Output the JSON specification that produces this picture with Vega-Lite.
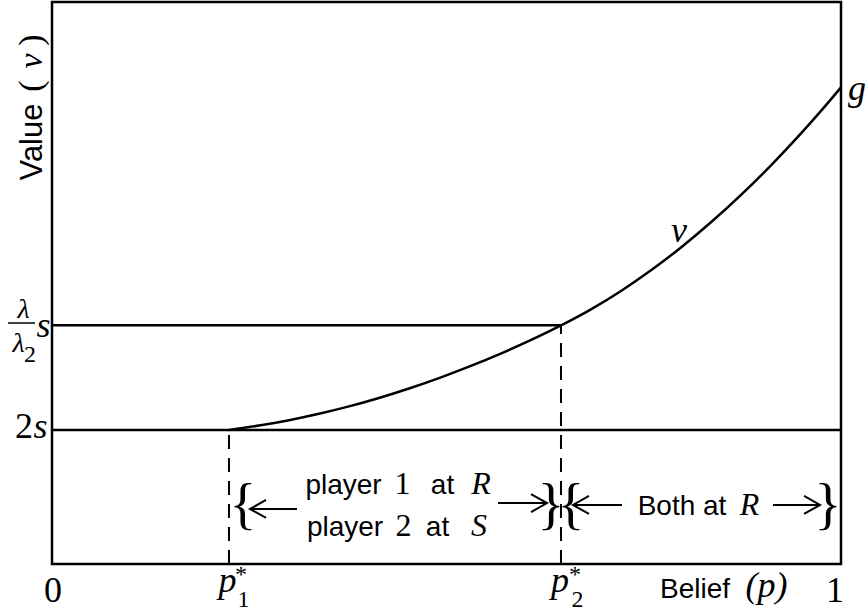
{
  "$schema": "https://vega.github.io/schema/vega-lite/v6.json",
  "width": 789,
  "height": 562,
  "autosize": {"type": "none"},
  "padding": {"left": 52, "top": 2, "right": 25, "bottom": 51},
  "background": "white",
  "config": {"view": {"stroke": "#000", "strokeWidth": 2.5}},
  "datasets": {
    "curve": [
      {"p": 0.2243, "v": 0.2384},
      {"p": 0.2624, "v": 0.2463},
      {"p": 0.3004, "v": 0.2559},
      {"p": 0.3384, "v": 0.2673},
      {"p": 0.3764, "v": 0.2804},
      {"p": 0.4144, "v": 0.2954},
      {"p": 0.4525, "v": 0.3123},
      {"p": 0.4905, "v": 0.3308},
      {"p": 0.5285, "v": 0.3511},
      {"p": 0.5665, "v": 0.3731},
      {"p": 0.6046, "v": 0.3970},
      {"p": 0.6451, "v": 0.4246},
      {"p": 0.6831, "v": 0.4532},
      {"p": 0.7212, "v": 0.4859},
      {"p": 0.7592, "v": 0.5226},
      {"p": 0.7972, "v": 0.5633},
      {"p": 0.8352, "v": 0.6080},
      {"p": 0.8733, "v": 0.6568},
      {"p": 0.9113, "v": 0.7094},
      {"p": 0.9493, "v": 0.7662},
      {"p": 0.9747, "v": 0.8062},
      {"p": 1.0, "v": 0.8480}
    ],
    "hlines": [
      {"p": 0, "p2": 1, "v": 0.2384},
      {"p": 0, "p2": 0.6451, "v": 0.4246}
    ],
    "vlines": [
      {"p": 0.2243, "v": 0, "v2": 0.2384},
      {"p": 0.6451, "v": 0, "v2": 0.4246}
    ],
    "fracbar": [
      {"p": -0.0558, "p2": -0.0215, "v": 0.4288}
    ],
    "arrows": [
      {"dir": "left", "tip": 0.2510, "tail": 0.3105, "v": 0.0979},
      {"dir": "right", "tip": 0.6274, "tail": 0.5653, "v": 0.1085},
      {"dir": "left", "tip": 0.6603, "tail": 0.7224, "v": 0.1050},
      {"dir": "right", "tip": 0.9734, "tail": 0.9138, "v": 0.1050}
    ],
    "labels": [
      {"kind": "sans", "t": "player", "p": 0.3695, "v": 0.1246},
      {"kind": "serif", "t": "1", "p": 0.4442, "v": 0.1246},
      {"kind": "sans", "t": "at", "p": 0.4949, "v": 0.1246},
      {"kind": "serifItalic", "t": "R", "p": 0.5437, "v": 0.1246},
      {"kind": "sans", "t": "player", "p": 0.3714, "v": 0.0498},
      {"kind": "serif", "t": "2", "p": 0.4455, "v": 0.0498},
      {"kind": "sans", "t": "at", "p": 0.4886, "v": 0.0498},
      {"kind": "serifItalic", "t": "S", "p": 0.5412, "v": 0.0498},
      {"kind": "sans", "t": "Both at", "p": 0.7985, "v": 0.0872},
      {"kind": "serifItalic", "t": "R", "p": 0.8840, "v": 0.0872},
      {"kind": "brace", "t": "{", "p": 0.2421, "v": 0.1032},
      {"kind": "brace", "t": "}", "p": 0.6324, "v": 0.1032},
      {"kind": "brace", "t": "{", "p": 0.6578, "v": 0.1032},
      {"kind": "brace", "t": "}", "p": 0.9835, "v": 0.1032},
      {"kind": "title", "t": "Belief", "p": 0.8150, "v": -0.0605},
      {"kind": "math", "t": "(p)", "p": 0.9056, "v": -0.0587},
      {"kind": "tick", "t": "0", "p": 0.0013, "v": -0.0676},
      {"kind": "tick", "t": "1", "p": 0.9924, "v": -0.0676},
      {"kind": "math", "t": "p", "p": 0.2224, "v": -0.0498},
      {"kind": "sub", "t": "1", "p": 0.2427, "v": -0.0765},
      {"kind": "star", "t": "*", "p": 0.2395, "v": -0.0196},
      {"kind": "math", "t": "p", "p": 0.6439, "v": -0.0498},
      {"kind": "sub", "t": "2", "p": 0.6660, "v": -0.0765},
      {"kind": "star", "t": "*", "p": 0.6629, "v": -0.0196},
      {"kind": "tick", "t": "2", "p": -0.0355, "v": 0.2242},
      {"kind": "math", "t": "s", "p": -0.0146, "v": 0.2242},
      {"kind": "lambda", "t": "λ", "p": -0.0361, "v": 0.4377},
      {"kind": "lambda", "t": "λ", "p": -0.0425, "v": 0.3772},
      {"kind": "sub", "t": "2", "p": -0.0279, "v": 0.3594},
      {"kind": "math", "t": "s", "p": -0.0108, "v": 0.4039},
      {"kind": "math", "t": "g", "p": 1.0203, "v": 0.8256},
      {"kind": "math", "t": "v", "p": 0.7947, "v": 0.5730},
      {"kind": "ytitle", "t": "Value", "p": -0.0127, "v": 0.7509},
      {"kind": "ytitleParen", "t": "(", "p": -0.0127, "v": 0.8505},
      {"kind": "ytitleMath", "t": "v", "p": -0.0127, "v": 0.8950},
      {"kind": "ytitleParen", "t": ")", "p": -0.0127, "v": 0.9324}
    ]
  },
  "encoding": {
    "x": {"field": "p", "type": "quantitative", "scale": {"domain": [0, 1], "nice": false, "zero": false}, "axis": null},
    "y": {"field": "v", "type": "quantitative", "scale": {"domain": [0, 1], "nice": false, "zero": false}, "axis": null}
  },
  "layer": [
    {
      "data": {"name": "hlines"},
      "mark": {"type": "rule", "color": "#000", "strokeWidth": 2.5},
      "encoding": {"x2": {"field": "p2"}}
    },
    {
      "data": {"name": "vlines"},
      "mark": {"type": "rule", "color": "#000", "strokeWidth": 2, "strokeDash": [14, 9]},
      "encoding": {"y2": {"field": "v2"}}
    },
    {
      "data": {"name": "fracbar"},
      "mark": {"type": "rule", "color": "#000", "strokeWidth": 1.5},
      "encoding": {"x2": {"field": "p2"}}
    },
    {
      "data": {"name": "curve"},
      "mark": {"type": "line", "color": "#000", "strokeWidth": 2.5, "interpolate": "monotone"},
      "encoding": {"order": {"field": "p", "type": "quantitative"}}
    },
    {
      "data": {"name": "arrows"},
      "mark": {"type": "rule", "color": "#000", "strokeWidth": 2},
      "encoding": {
        "x": {"field": "tail", "type": "quantitative"},
        "x2": {"field": "tip"}
      }
    },
    {
      "data": {"name": "arrows"},
      "transform": [{"filter": "datum.dir === 'right'"}],
      "mark": {"type": "point", "shape": "M -1.6 -0.9 L 0 0 L -1.6 0.9", "filled": false, "size": 400, "color": "#000", "strokeWidth": 2, "opacity": 1},
      "encoding": {"x": {"field": "tip", "type": "quantitative"}}
    },
    {
      "data": {"name": "arrows"},
      "transform": [{"filter": "datum.dir === 'left'"}],
      "mark": {"type": "point", "shape": "M 1.6 -0.9 L 0 0 L 1.6 0.9", "filled": false, "size": 400, "color": "#000", "strokeWidth": 2, "opacity": 1},
      "encoding": {"x": {"field": "tip", "type": "quantitative"}}
    },
    {
      "data": {"name": "labels"},
      "transform": [{"filter": "datum.kind === 'sans'"}],
      "mark": {"type": "text", "font": "Liberation Sans", "fontSize": 28, "align": "center", "baseline": "alphabetic", "color": "#000"},
      "encoding": {"text": {"field": "t"}}
    },
    {
      "data": {"name": "labels"},
      "transform": [{"filter": "datum.kind === 'title'"}],
      "mark": {"type": "text", "font": "Liberation Sans", "fontSize": 28, "align": "center", "baseline": "alphabetic", "color": "#000"},
      "encoding": {"text": {"field": "t"}}
    },
    {
      "data": {"name": "labels"},
      "transform": [{"filter": "datum.kind === 'serif'"}],
      "mark": {"type": "text", "font": "Liberation Serif", "fontSize": 32, "align": "center", "baseline": "alphabetic", "color": "#000"},
      "encoding": {"text": {"field": "t"}}
    },
    {
      "data": {"name": "labels"},
      "transform": [{"filter": "datum.kind === 'serifItalic'"}],
      "mark": {"type": "text", "font": "Liberation Serif", "fontStyle": "italic", "fontSize": 32, "align": "center", "baseline": "alphabetic", "color": "#000"},
      "encoding": {"text": {"field": "t"}}
    },
    {
      "data": {"name": "labels"},
      "transform": [{"filter": "datum.kind === 'tick'"}],
      "mark": {"type": "text", "font": "Liberation Serif", "fontSize": 36, "align": "center", "baseline": "alphabetic", "color": "#000"},
      "encoding": {"text": {"field": "t"}}
    },
    {
      "data": {"name": "labels"},
      "transform": [{"filter": "datum.kind === 'math'"}],
      "mark": {"type": "text", "font": "Liberation Serif", "fontStyle": "italic", "fontSize": 36, "align": "center", "baseline": "alphabetic", "color": "#000"},
      "encoding": {"text": {"field": "t"}}
    },
    {
      "data": {"name": "labels"},
      "transform": [{"filter": "datum.kind === 'sub'"}],
      "mark": {"type": "text", "font": "Liberation Serif", "fontSize": 24, "align": "center", "baseline": "alphabetic", "color": "#000"},
      "encoding": {"text": {"field": "t"}}
    },
    {
      "data": {"name": "labels"},
      "transform": [{"filter": "datum.kind === 'star'"}],
      "mark": {"type": "text", "font": "Liberation Serif", "fontSize": 24, "align": "center", "baseline": "middle", "color": "#000"},
      "encoding": {"text": {"field": "t"}}
    },
    {
      "data": {"name": "labels"},
      "transform": [{"filter": "datum.kind === 'lambda'"}],
      "mark": {"type": "text", "font": "Liberation Serif", "fontStyle": "italic", "fontSize": 28, "align": "center", "baseline": "alphabetic", "color": "#000"},
      "encoding": {"text": {"field": "t"}}
    },
    {
      "data": {"name": "labels"},
      "transform": [{"filter": "datum.kind === 'brace'"}],
      "mark": {"type": "text", "font": "Liberation Serif", "fontSize": 56, "align": "center", "baseline": "middle", "color": "#000"},
      "encoding": {"text": {"field": "t"}}
    },
    {
      "data": {"name": "labels"},
      "transform": [{"filter": "datum.kind === 'ytitle'"}],
      "mark": {"type": "text", "font": "Liberation Sans", "fontSize": 31, "angle": 270, "align": "center", "baseline": "alphabetic", "color": "#000"},
      "encoding": {"text": {"field": "t"}}
    },
    {
      "data": {"name": "labels"},
      "transform": [{"filter": "datum.kind === 'ytitleParen'"}],
      "mark": {"type": "text", "font": "Liberation Serif", "fontSize": 34, "angle": 270, "align": "center", "baseline": "alphabetic", "color": "#000"},
      "encoding": {"text": {"field": "t"}}
    },
    {
      "data": {"name": "labels"},
      "transform": [{"filter": "datum.kind === 'ytitleMath'"}],
      "mark": {"type": "text", "font": "Liberation Serif", "fontStyle": "italic", "fontSize": 34, "angle": 270, "align": "center", "baseline": "alphabetic", "color": "#000"},
      "encoding": {"text": {"field": "t"}}
    }
  ]
}
